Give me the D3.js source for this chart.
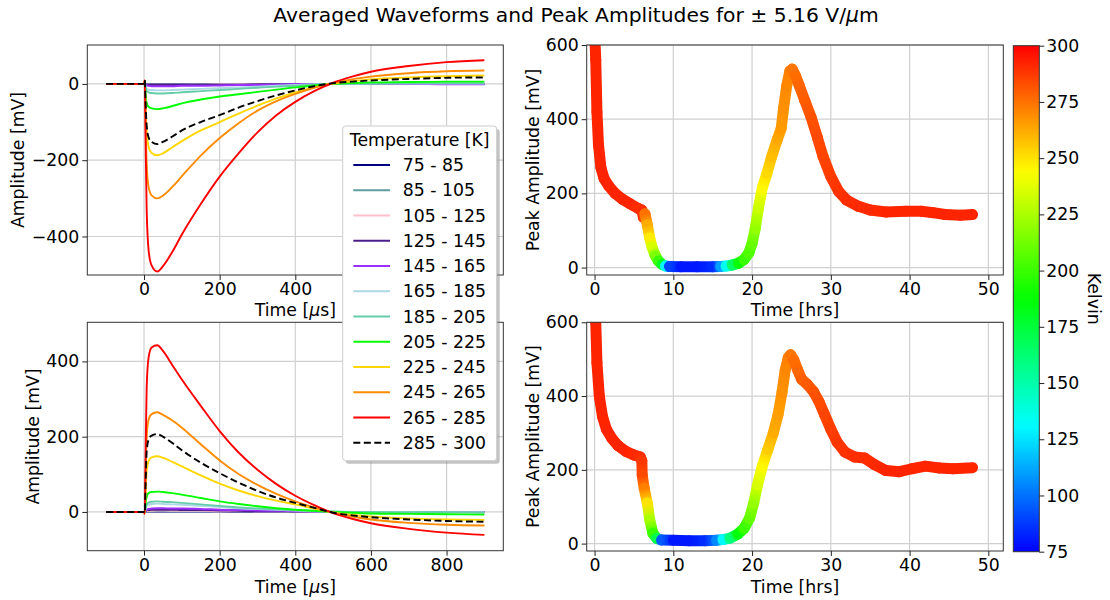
<!DOCTYPE html>
<html>
<head>
<meta charset="utf-8">
<style>
  body { margin: 0; background: #fff; }
  svg { font-family: "DejaVu Sans", sans-serif; }
</style>
</head>
<body>
<svg width="1110" height="600"></svg>
<script src="https://d3js.org/d3.v7.min.js"></script>
<script>
  // ---- waveform data (time in us, amplitude in mV) ----
  var waveTimes = [-100, 0, 2, 4, 7, 12, 20, 35, 50, 75, 100, 150, 200, 250, 300, 350, 400, 450, 500, 550, 600, 700, 800, 900];

  var tempRanges = ["75 - 85", "85 - 105", "105 - 125", "125 - 145", "145 - 165", "165 - 185",
                    "185 - 205", "205 - 225", "225 - 245", "245 - 265", "265 - 285", "285 - 300"];
  var tempColors = ["navy", "cadetblue", "pink", "#4b1d8a", "#9b30ff", "lightblue",
                    "mediumaquamarine", "lime", "gold", "darkorange", "red", "black"];

  // negative field (top left)
  var neg75  = [0,0,1,0,-1,-1,-1,-1,-1,-1,-1,-1,-1,0,0,0,0,0,0,0,0,0,0,0];
  var neg85  = [0,0,1,-1,-1,-2,-2,-2,-2,-2,-2,-1,-1,-1,-1,0,0,0,0,0,0,0,0,0];
  var neg105 = [0,0,1,-1,-2,-2,-2,-2,-2,-2,-2,-2,-1,-1,-1,-1,0,0,0,0,0,0,0,0];
  var neg125 = [0,0,1,-1,-2,-3,-3,-3,-3,-3,-3,-2,-2,-2,-1,-1,-1,0,0,0,0,0,0,0];
  var neg145 = [0,0,2,-2,-4,-5,-6,-6,-6,-6,-5,-5,-4,-3,-3,-2,-1,-1,0,0,0,0,-1,-1];
  var neg165 = [0,0,2,-6,-12,-15,-16,-17,-17,-16,-15,-13,-11,-9,-7,-5,-3,-1,0,0,1,1,1,1];
  var neg185 = [0,0,3,-10,-18,-22,-24,-25,-25,-24,-22,-19,-16,-13,-10,-7,-5,-2,0,1,1,2,2,2];
  var neg205 = [0,0,4,-25,-50,-60,-64,-66,-64,-58,-51,-41,-33,-27,-21,-15,-9,-4,0,2,4,5,6,6];
  var neg225 = [0,0,8,-55,-125,-165,-181,-187,-182,-166,-150,-122,-100,-78,-57,-38,-22,-9,1,7,12,17,20,22];
  var neg245 = [0,0,8,-90,-210,-270,-292,-300,-293,-270,-242,-188,-142,-103,-70,-45,-26,-10,2,12,19,28,33,35];
  var neg265 = [0,0,10,-140,-330,-435,-476,-492,-478,-440,-395,-315,-243,-182,-127,-82,-47,-19,3,19,32,47,57,62];
  var neg285 = [0,0,10,-45,-110,-140,-152,-158,-152,-138,-122,-100,-82,-62,-45,-30,-17,-6,2,6,9,13,16,17];

  // positive field (bottom left)
  var pos75  = [0,0,0,0,1,1,1,1,1,1,1,1,1,0,0,0,0,0,0,0,0,0,0,0];
  var pos85  = [0,0,0,1,2,2,2,3,3,2,2,2,2,1,1,1,0,0,0,0,0,0,0,0];
  var pos105 = [0,0,0,1,2,3,3,4,4,3,3,3,2,2,1,1,1,0,0,0,0,0,0,0];
  var pos125 = [0,0,0,2,4,5,6,6,6,6,5,5,4,3,2,2,1,1,0,0,0,0,0,0];
  var pos145 = [0,0,0,3,6,8,9,10,10,9,9,8,6,5,4,3,2,1,0,0,0,0,0,0];
  var pos165 = [0,0,-1,8,15,19,21,22,21,20,19,16,13,10,8,6,4,2,1,0,0,0,-1,-1];
  var pos185 = [0,0,-1,10,20,25,27,28,27,26,24,20,16,12,9,7,5,3,1,0,0,-1,-1,-2];
  var pos205 = [0,0,-2,20,40,50,53,54,53,50,46,37,28,21,15,10,6,3,0,-2,-4,-5,-6,-7];
  var pos225 = [0,0,-3,50,110,135,145,148,144,133,121,97,75,57,42,30,20,9,-1,-8,-12,-17,-20,-21];
  var pos245 = [0,0,-4,90,200,245,260,265,258,243,224,180,137,101,72,48,28,12,-2,-12,-20,-29,-34,-36];
  var pos265 = [0,0,-5,150,330,410,437,443,428,390,352,282,215,158,112,74,43,18,-3,-18,-30,-45,-55,-61];
  var pos285 = [0,0,-3,70,160,192,203,207,200,183,164,131,103,78,56,38,24,11,-2,-9,-14,-20,-24,-26];

  var negWaves = [neg75, neg85, neg105, neg125, neg145, neg165, neg185, neg205, neg225, neg245, neg265, neg285];
  var posWaves = [pos75, pos85, pos105, pos125, pos145, pos165, pos185, pos205, pos225, pos245, pos265, pos285];

  // ---- peak amplitude vs time (hrs), with temperature (K) ----
  var topHrs  = [0, 0.15, 0.3, 0.5, 0.8, 1.2, 1.8, 2.6, 3.5, 4.5, 5.5, 6.0, 6.2, 6.4, 6.7, 7.0, 7.3, 7.7, 8.1, 8.6, 9.0, 9.5, 11, 13, 15, 16, 16.7, 17.5, 18.3, 19.0, 19.6, 20.0, 20.4, 20.8, 21.3, 21.9, 22.5, 23.2, 23.7, 24.0, 24.4, 24.8, 25.1, 25.5, 26.0, 26.7, 27.5, 28.3, 29.0, 30.0, 31.0, 32.0, 33.5, 35.0, 37.0, 39.5, 41.5, 43.0, 44.5, 46.5, 48.0];
  var topAmp  = [640, 560, 420, 330, 270, 240, 220, 200, 185, 172, 160, 155, 135, 145, 115, 80, 55, 32, 18, 8, 4, 3, 2, 2, 2, 3, 4, 7, 12, 22, 40, 65, 105, 160, 215, 255, 300, 345, 375, 430, 490, 530, 535, 518, 490, 450, 405, 350, 300, 245, 205, 182, 165, 155, 150, 152, 152, 148, 143, 141, 143];
  var topTemp = [292, 292, 292, 292, 292, 292, 292, 292, 292, 292, 290, 290, 288, 275, 262, 248, 235, 215, 200, 180, 130, 90, 80, 80, 85, 110, 135, 165, 190, 200, 205, 210, 220, 232, 245, 252, 258, 263, 266, 268, 270, 272, 274, 276, 278, 280, 282, 284, 285, 287, 289, 290, 291, 291, 292, 292, 292, 292, 292, 292, 292];

  var botHrs  = [0, 0.15, 0.3, 0.6, 1.0, 1.5, 2.2, 3.0, 4.0, 5.0, 5.8, 6.0, 6.05, 6.3, 6.7, 7.0, 7.4, 7.9, 8.5, 10, 12, 14, 15.5, 16.3, 17.2, 18.2, 19.0, 19.7, 20.2, 20.7, 21.3, 22.0, 22.7, 23.3, 23.8, 24.2, 24.6, 24.9, 25.3, 25.8, 26.3, 27.0, 27.8, 28.5, 29.2, 30.0, 30.8, 31.8, 33.0, 34.3, 35.5, 37.0, 38.7, 40.3, 42.0, 43.8, 45.5, 48.0];
  var botAmp  = [640, 600, 490, 400, 345, 310, 285, 265, 250, 240, 235, 225, 185, 150, 110, 65, 28, 14, 10, 9, 8, 8, 9, 11, 15, 26, 42, 70, 110, 160, 210, 255, 300, 350, 410, 470, 505, 512, 498, 470, 445, 432, 412, 385, 350, 310, 275, 248, 235, 232, 215, 198, 195, 203, 210, 205, 203, 206];
  var botTemp = [292, 292, 292, 292, 292, 292, 292, 292, 292, 291, 290, 288, 284, 272, 250, 225, 200, 170, 95, 80, 80, 85, 105, 130, 160, 185, 200, 210, 220, 235, 245, 255, 262, 265, 268, 270, 272, 274, 276, 277, 279, 280, 282, 283, 285, 286, 288, 289, 290, 290, 291, 292, 292, 292, 292, 292, 292, 292];

  var cbarTicks = [75, 100, 125, 150, 175, 200, 225, 250, 275, 300];

  // ---- setup ----
  var svg = d3.select("svg");
  var defs = svg.append("defs");
  var fontSize = 17.3;
  var fmt = d3.format("d");
  var uid = 0;

  // temperature colormap: blue (75 K) -> cyan -> green -> yellow -> red (300 K)
  function cmap(t) {
    var h = 240 * (300 - Math.max(75, Math.min(300, t))) / 225;
    return d3.hsl(h, 1, 0.5).formatHex();
  }

  function panel(box, xDom, yDom, xTicks, yTicks) {
    var x = d3.scaleLinear().domain(xDom).range([box.x0, box.x1]);
    var y = d3.scaleLinear().domain(yDom).range([box.y1, box.y0]);
    var g = svg.append("g");
    var id = "clip" + (uid++);
    defs.append("clipPath").attr("id", id).append("rect")
        .attr("x", box.x0).attr("y", box.y0)
        .attr("width", box.x1 - box.x0).attr("height", box.y1 - box.y0);

    g.append("g").selectAll("line").data(xTicks).enter().append("line")
        .attr("x1", function(d) { return x(d); }).attr("x2", function(d) { return x(d); })
        .attr("y1", box.y0).attr("y2", box.y1)
        .attr("stroke", "#d0d0d0").attr("stroke-width", 1.2);
    g.append("g").selectAll("line").data(yTicks).enter().append("line")
        .attr("y1", function(d) { return y(d); }).attr("y2", function(d) { return y(d); })
        .attr("x1", box.x0).attr("x2", box.x1)
        .attr("stroke", "#d0d0d0").attr("stroke-width", 1.2);

    var plot = g.append("g").attr("clip-path", "url(#" + id + ")");

    var ax = g.append("g").attr("transform", "translate(0," + box.y1 + ")")
        .call(d3.axisBottom(x).tickValues(xTicks).tickFormat(fmt).tickSize(5).tickPadding(3));
    var ay = g.append("g").attr("transform", "translate(" + box.x0 + ",0)")
        .call(d3.axisLeft(y).tickValues(yTicks).tickFormat(fmt).tickSize(5).tickPadding(3));
    [ax, ay].forEach(function(a) {
      a.select(".domain").remove();
      a.selectAll("text").attr("font-size", fontSize).attr("font-family", "DejaVu Sans").attr("fill", "#000");
      a.selectAll("line").attr("stroke", "#222");
    });

    return { x: x, y: y, g: g, plot: plot, box: box };
  }

  function frame(p) {
    p.g.append("rect")
        .attr("x", p.box.x0).attr("y", p.box.y0)
        .attr("width", p.box.x1 - p.box.x0).attr("height", p.box.y1 - p.box.y0)
        .attr("fill", "none").attr("stroke", "#333").attr("stroke-width", 1);
  }

  function xLabel(p, y, parts) {
    var t = svg.append("text")
        .attr("x", (p.box.x0 + p.box.x1) / 2).attr("y", y)
        .attr("text-anchor", "middle").attr("font-size", fontSize);
    parts.forEach(function(s) {
      t.append("tspan").attr("font-style", s[1] ? "italic" : null).text(s[0]);
    });
  }

  function yLabel(p, x, label) {
    var cy = (p.box.y0 + p.box.y1) / 2;
    svg.append("text")
        .attr("transform", "translate(" + x + "," + cy + ") rotate(-90)")
        .attr("text-anchor", "middle").attr("dy", "0.35em")
        .attr("font-size", fontSize).text(label);
  }

  function drawWaves(p, waves) {
    var line = d3.line()
        .x(function(d, i) { return p.x(waveTimes[i]); })
        .y(function(d) { return p.y(d); })
        .curve(d3.curveMonotoneX);
    waves.forEach(function(w, k) {
      p.plot.append("path")
          .datum(w)
          .attr("fill", "none")
          .attr("stroke", tempColors[k])
          .attr("stroke-width", 1.9)
          .attr("stroke-dasharray", k === waves.length - 1 ? "7,3.5" : null)
          .attr("d", line);
    });
  }

  function drawPeak(p, hrs, amp, temp) {
    for (var i = 0; i < hrs.length - 1; i++) {
      var x1 = p.x(hrs[i]), y1 = p.y(amp[i]), x2 = p.x(hrs[i + 1]), y2 = p.y(amp[i + 1]);
      var gid = "seg" + (uid++);
      var grad = defs.append("linearGradient").attr("id", gid)
          .attr("gradientUnits", "userSpaceOnUse")
          .attr("x1", x1).attr("y1", y1).attr("x2", x2).attr("y2", y2 + 0.01);
      grad.append("stop").attr("offset", 0).attr("stop-color", cmap(temp[i]));
      grad.append("stop").attr("offset", 1).attr("stop-color", cmap(temp[i + 1]));
      p.plot.append("line")
          .attr("x1", x1).attr("y1", y1).attr("x2", x2).attr("y2", y2)
          .attr("stroke", "url(#" + gid + ")")
          .attr("stroke-width", 11)
          .attr("stroke-linecap", "round");
    }
  }

  // ---- panels ----
  var tl = panel({x0: 87.3, x1: 503.3, y0: 45, y1: 275}, [-150, 950], [-501, 102], [0, 200, 400, 600, 800], [-400, -200, 0]);
  var bl = panel({x0: 87.3, x1: 503.3, y0: 322.3, y1: 550.7}, [-150, 950], [-103, 504], [0, 200, 400, 600, 800], [0, 200, 400]);
  var tr = panel({x0: 586.7, x1: 1003.3, y0: 45, y1: 275}, [-1, 51.9], [-20, 600], [0, 10, 20, 30, 40, 50], [0, 200, 400, 600]);
  var br = panel({x0: 586.7, x1: 1003.3, y0: 322.3, y1: 551}, [-1, 51.9], [-20, 600], [0, 10, 20, 30, 40, 50], [0, 200, 400, 600]);

  drawWaves(tl, negWaves);
  drawWaves(bl, posWaves);
  drawPeak(tr, topHrs, topAmp, topTemp);
  drawPeak(br, botHrs, botAmp, botTemp);
  [tl, bl, tr, br].forEach(frame);

  xLabel(tl, 316, [["Time ["], ["\u03bc", true], ["s]"]]);
  xLabel(bl, 593, [["Time ["], ["\u03bc", true], ["s]"]]);
  xLabel(tr, 316, [["Time [hrs]"]]);
  xLabel(br, 593, [["Time [hrs]"]]);
  yLabel(tl, 18, "Amplitude [mV]");
  yLabel(bl, 33, "Amplitude [mV]");
  yLabel(tr, 533, "Peak Amplitude [mV]");
  yLabel(br, 533, "Peak Amplitude [mV]");

  // ---- title ----
  var title = svg.append("text").attr("x", 576).attr("y", 22)
      .attr("text-anchor", "middle").attr("font-size", 20.3);
  title.append("tspan").text("Averaged Waveforms and Peak Amplitudes for \u00b1 5.16 V/");
  title.append("tspan").attr("font-style", "italic").text("\u03bc");
  title.append("tspan").text("m");

  // ---- legend ----
  var lg = svg.append("g");
  var lx0 = 342.7, ly0 = 126, lw = 154, lh = 334.7;
  lg.append("rect").attr("x", lx0 + 3).attr("y", ly0 + 3).attr("width", lw).attr("height", lh)
      .attr("rx", 3).attr("fill", "#888").attr("opacity", 0.5);
  lg.append("rect").attr("x", lx0).attr("y", ly0).attr("width", lw).attr("height", lh)
      .attr("rx", 3).attr("fill", "#fff").attr("stroke", "#cccccc").attr("stroke-width", 1);
  lg.append("text").attr("x", lx0 + lw / 2).attr("y", 140).attr("dy", "0.35em")
      .attr("text-anchor", "middle").attr("font-size", fontSize).text("Temperature [K]");
  var ly = d3.scalePoint().domain(tempRanges).range([165, 442.7]);
  var items = lg.selectAll(".item").data(tempRanges).enter().append("g");
  items.append("line")
      .attr("x1", 353.3).attr("x2", 390)
      .attr("y1", function(d) { return ly(d); }).attr("y2", function(d) { return ly(d); })
      .attr("stroke", function(d, i) { return tempColors[i]; })
      .attr("stroke-width", 2)
      .attr("stroke-dasharray", function(d, i) { return i === tempRanges.length - 1 ? "7,3.5" : null; });
  items.append("text")
      .attr("x", 402.7).attr("y", function(d) { return ly(d); }).attr("dy", "0.35em")
      .attr("font-size", fontSize).text(function(d) { return d; });

  // ---- colorbar ----
  var cb = {x0: 1013.3, x1: 1039.3, y0: 45.7, y1: 551.7};
  var cy = d3.scaleLinear().domain([75, 300]).range([cb.y1, cb.y0]);
  var cgrad = defs.append("linearGradient").attr("id", "cbar")
      .attr("x1", 0).attr("y1", 1).attr("x2", 0).attr("y2", 0);
  d3.range(75, 301, 5).forEach(function(t) {
    cgrad.append("stop").attr("offset", (t - 75) / 225).attr("stop-color", cmap(t));
  });
  svg.append("rect").attr("x", cb.x0).attr("y", cb.y0)
      .attr("width", cb.x1 - cb.x0).attr("height", cb.y1 - cb.y0)
      .attr("fill", "url(#cbar)").attr("stroke", "#333").attr("stroke-width", 1);
  var cax = svg.append("g").attr("transform", "translate(" + cb.x1 + ",0)")
      .call(d3.axisRight(cy).tickValues(cbarTicks).tickFormat(fmt).tickSize(5).tickPadding(2));
  cax.select(".domain").remove();
  cax.selectAll("text").attr("font-size", fontSize).attr("font-family", "DejaVu Sans").attr("fill", "#000");
  cax.selectAll("line").attr("stroke", "#222");
  svg.append("text")
      .attr("transform", "translate(1094," + ((cb.y0 + cb.y1) / 2) + ") rotate(90)")
      .attr("text-anchor", "middle").attr("dy", "0.35em")
      .attr("font-size", fontSize).text("Kelvin");
</script>
</body>
</html>
